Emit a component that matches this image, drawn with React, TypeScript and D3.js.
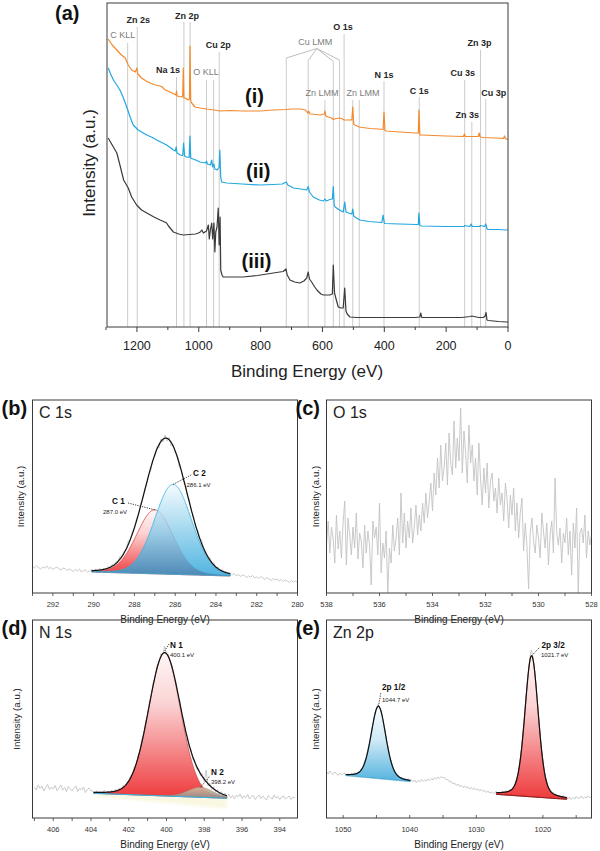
import React from 'react';
import * as d3 from 'd3';

const FONT = "'Liberation Sans', Arial, Helvetica, sans-serif";

// ---------- (a) survey spectra: [binding energy (eV), intensity (a.u.)] ----------
const SURVEY_I: [number, number][] = [
  [1293, 288], [1280, 282], [1265, 277], [1250, 272], [1238, 269], [1228, 262], [1217, 257], [1205, 255],
  [1200, 259], [1197, 253], [1185, 249], [1170, 246], [1158, 244], [1140, 242], [1125, 241], [1118, 240],
  [1114, 238.5], [1108, 237], [1093, 235], [1080, 233], [1074, 232], [1072, 236], [1070, 231], [1055, 230],
  [1052, 231], [1050, 259], [1048, 229], [1044, 229], [1034, 227], [1030, 228], [1028.5, 281], [1026, 226],
  [1023, 224], [1012, 220], [996, 219], [975, 218], [950, 217], [931, 216], [900, 216.5], [860, 216],
  [802, 216], [760, 217], [716, 217.5], [700, 218], [672, 218], [655, 217], [648, 214], [645, 216],
  [640, 213], [620, 212.5], [608, 212], [594, 213], [592, 216], [589, 211], [581, 210], [570, 209],
  [565, 207.5], [560, 208], [545, 209], [538, 208.5], [530, 207], [516, 207], [505, 207], [502, 220],
  [499, 203], [495, 202], [481, 200], [470, 199.5], [446, 198.5], [420, 198], [404, 197.5], [401, 215],
  [398, 196.5], [394, 196], [350, 195], [300, 194], [290, 194], [288, 217], [285, 192], [281, 192],
  [200, 191], [144, 190.5], [141, 193], [138, 190.5], [96, 190.5], [93, 194], [90, 190], [80, 189.5],
  [40, 189], [15, 188.5], [11, 191], [8, 188], [0, 188],
];

const SURVEY_II: [number, number][] = [
  [1293, 259], [1285, 253], [1276, 247], [1265, 242], [1255, 237], [1245, 230], [1233, 220], [1222, 210],
  [1212, 202], [1196, 197], [1185, 195], [1168, 192], [1150, 189.5], [1136, 187], [1120, 184.5], [1104, 182],
  [1090, 179], [1082, 177], [1076, 176], [1073, 180], [1070, 174], [1060, 172], [1052, 171.5], [1049, 184],
  [1046, 171], [1039, 170], [1031, 169.5], [1028.5, 191], [1026, 169], [1023, 168.5], [1010, 167], [996, 165],
  [978, 164], [975, 166], [972, 163], [962, 162], [958, 167], [955, 160], [951, 163], [948, 158],
  [940, 157], [934, 160], [932, 177], [929, 150], [926, 145], [910, 144], [860, 143], [802, 142],
  [760, 142.5], [730, 143], [717, 145], [712, 142], [694, 139], [670, 138], [651, 137], [646, 140.5],
  [642, 135], [630, 130], [610, 127], [597, 126], [592, 128], [588, 126], [576, 127.5], [568, 128],
  [565, 140.5], [562, 122], [559, 120], [545, 117], [533, 115], [528, 125], [524, 115], [516, 114],
  [505, 113], [502, 118], [499, 111], [495, 110], [479, 107], [450, 105.5], [408, 104.5], [404, 112],
  [400, 104], [398, 103.5], [350, 103], [296, 102.5], [290, 102.5], [288, 114], [285, 101.5], [279, 101],
  [200, 100.5], [142, 100.5], [140, 101.5], [124, 100.5], [119, 103], [116, 100.5], [92, 100.5], [89, 101.5],
  [76, 100.5], [72, 103], [68, 98], [64, 97.5], [30, 97.5], [4, 97], [0, 97],
];

const SURVEY_III: [number, number][] = [
  [1293, 189], [1280, 182], [1265, 174], [1255, 162], [1243, 147], [1228, 139], [1217, 130], [1201, 122],
  [1185, 117], [1168, 114], [1145, 110], [1125, 107], [1110, 105], [1104, 104], [1098, 101], [1082, 95],
  [1065, 93], [1050, 92], [1030, 92.5], [1010, 93], [1001, 94], [995, 95], [990, 97], [985, 94],
  [975, 96], [969, 102], [966, 88], [962, 98], [958, 104], [955, 88], [952, 100], [951, 104],
  [948, 75], [945, 95], [941, 100], [937, 119], [934, 82], [931, 110], [929, 57], [925, 52],
  [921, 50], [890, 50], [856, 50], [810, 51.5], [759, 54], [727, 55.5], [718, 58], [714, 52],
  [705, 47], [690, 45], [673, 44], [660, 46], [651, 49], [646, 55], [642, 48], [635, 45],
  [625, 40], [618, 37], [605, 33], [597, 32], [576, 32], [568, 33], [565, 62], [561, 34],
  [556, 28], [549, 20], [540, 19], [533, 19], [528, 39], [524, 16], [520, 13], [511, 10],
  [489, 9.5], [450, 9.5], [400, 9.5], [300, 9.5], [285, 10], [282, 14], [279, 9.5], [200, 9.5],
  [150, 9.5], [122, 10.5], [117, 11], [95, 9.5], [80, 9.5], [74, 11], [71, 14.5], [68, 7],
  [63, 6.5], [30, 5.5], [4, 5], [0, 5],
];

const SURVEY_NAMES = ['(i)', '(ii)', '(iii)'];
const SURVEY_TICKS = [1200, 1000, 800, 600, 400, 200, 0];

// photoelectron / Auger assignments (binding energies of the guide lines)
const SURVEY_PEAKS = [
  { name: 'C KLL', energies: [1230], auger: true },
  { name: 'Zn 2s', energies: [1199], auger: false },
  { name: 'Na 1s', energies: [1072], auger: false },
  { name: 'Zn 2p', energies: [1048, 1028], auger: false },
  { name: 'O KLL', energies: [975, 952], auger: true },
  { name: 'Cu 2p', energies: [934], auger: false },
  { name: 'Cu LMM', energies: [717, 646, 565, 545], auger: true },
  { name: 'Zn LMM', energies: [592], auger: true },
  { name: 'O 1s', energies: [530], auger: false },
  { name: 'Zn LMM', energies: [502, 481], auger: true },
  { name: 'N 1s', energies: [401], auger: false },
  { name: 'C 1s', energies: [287], auger: false },
  { name: 'Cu 3s', energies: [140], auger: false },
  { name: 'Zn 3s', energies: [117], auger: false },
  { name: 'Zn 3p', energies: [89], auger: false },
  { name: 'Cu 3p', energies: [72], auger: false },
];

// label placement for the assignments above (same order)
const SURVEY_LABEL_LAYOUT: { dx: number; y: number; top: number; hub?: number; tops?: number[] }[] = [
  { dx: -5, y: 38, top: 43 },
  { dx: 1, y: 23, top: 27 },
  { dx: -8.5, y: 73, top: 77 },
  { dx: 0, y: 19, top: 22 },
  { dx: -4, y: 75, top: 80 },
  { dx: -1, y: 48, top: 52 },
  { dx: -1.5, y: 45, top: 58, hub: 48.5, tops: [58, 60.5, 61.5, 60] },
  { dx: -3, y: 96, top: 100 },
  { dx: -1, y: 30, top: 34 },
  { dx: 7, y: 96, top: 100 },
  { dx: 0, y: 78, top: 81 },
  { dx: 0, y: 94, top: 97 },
  { dx: -2, y: 76, top: 80 },
  { dx: -4.5, y: 118, top: 122 },
  { dx: -1, y: 46, top: 50 },
  { dx: 8, y: 96, top: 99 },
];

// ---------- (b) C 1s ----------
const C1S_RAW_START = 293;
const C1S_RAW_STEP = 0.1;
const C1S_RAW = [
  26.5, 25, 27, 25.5, 24, 26, 25, 27, 24.5, 25.5, 23.5, 25, 26, 24, 23, 25, 24.5, 22.5, 24, 23,
  21.5, 23.5, 22, 24, 21, 22.5, 23, 21, 22, 23.5, 22.5,
  24, 21.5, 24.5, 22, 25, 23, 26.5, 25, 28.5, 27, 31.5, 32, 37, 36.5, 42, 44, 52, 54, 62, 64,
  74.5, 78.5, 89, 93.5, 104, 108, 119, 122, 133.5, 136, 146, 145, 154, 151, 158, 152, 155.5, 147, 148.5, 140,
  137.5, 126, 123.5, 112, 108.5, 97, 93, 81.5, 77, 66, 63.5, 55, 52.5, 44, 41.5, 36, 35.5, 30.5, 30, 25,
  26, 22.5, 23.5, 20.5, 21.5, 19, 20,
  18.5, 19.5, 17, 18.5, 16.5, 18, 17.5, 15.5, 17, 16, 17.5, 15, 16, 14.5, 16.5, 15, 13.5, 15.5, 14, 12.5,
  14.5, 13, 14, 12, 13.5, 11.5, 13, 12, 10.5, 12.5, 11, 12, 10.5,
];
const C1S_BASELINE: [number, number][] = [[290.1, 21], [283.3, 17]];
const C1S_PEAKS = [
  { name: 'C 1', center: 287.0, fwhm: 2.1, height: 64 },
  { name: 'C 2', center: 286.1, fwhm: 2.15, height: 90 },
];
const C1S_ETA = 0.1;

// ---------- (c) O 1s ----------
const O1S_RAW_START = 538;
const O1S_RAW_STEP = 0.0625;
const O1S_RAW = [
  48, 72, 40, 66, 55, 30, 78, 44, 62, 35, 70, 92, 28, 75, 58, 38,
  66, 45, 80, 34, 60, 52, 25, 68, 40, 62, 48, 8, 72, 55, 66, 38,
  90, 20, 50, 35, 62, 0, 45, 30, 68, 42, 55, 75, 38, 100, 50, 80,
  45, 72, 55, 85, 50, 66, 88, 58, 78, 62, 90, 70, 100, 75, 92, 110,
  82, 120, 98, 135, 105, 148, 112, 125, 150, 108, 160, 130, 118, 172, 125, 155,
  132, 185, 120, 162, 140, 110, 168, 130, 148, 112, 135, 98, 150, 115, 88, 125,
  100, 130, 85, 112, 120, 92, 105, 80, 115, 88, 100, 72, 110, 95, 65, 98,
  78, 105, 62, 90, 55, 80, 95, 42, 70, 48, 4, 60, 75, 52, 40, 68,
  55, 35, 80, 62, 45, 70, 28, 58, 72, 40, 115, 60, 48, 65, 30, 60,
  50, 75, 38, 62, 18, 70, 45, 85, 0, 60, 65, 50, 78, 35, 62, 48,
  58,
];

// ---------- (d) N 1s ----------
const N1S_RAW_START = 407.0;
const N1S_RAW_STEP = 0.1;
const N1S_RAW = [
  31, 28, 33, 29.5, 32, 27, 30.5, 33.5, 28.5, 31, 29, 32.5, 27.5, 30, 33, 28, 30.5, 26.5, 31.5, 29,
  27, 30, 32, 26.5, 29.5, 28, 31, 25.5, 28.5, 30, 27,
  27, 24, 27.5, 23.5, 26.5, 24.5, 28, 24, 27, 25, 28, 25, 29, 26.5, 30, 28, 32.5, 31, 36, 36,
  42.5, 43, 51.5, 53.5, 63, 67, 79, 83.5, 97, 102, 117, 121.5, 136, 139.5, 153, 153, 164.5, 162, 172, 162.5,
  164, 153.5, 152.5, 140, 136.5, 122.5, 118, 103.5, 99, 86, 82.5, 71, 68.5, 58.5, 58, 49, 50, 42.5, 44, 36.5,
  48, 32, 35, 28.5, 31.5, 26, 28.5, 23.5, 26.5, 22, 25, 21,
  23.5, 20, 22.5, 19, 23, 21, 24, 19.5, 22, 20.5, 23.5, 19, 21.5, 22.5, 18.5, 21, 23, 19.5, 22, 20,
  18, 22.5, 20.5, 19, 23, 20, 21.5, 18.5, 21, 22, 19, 20.5, 22, 18.5, 21, 20,
];
const N1S_BASELINE: [number, number][] = [[403.87, 24.7], [396.8, 19.7]];
const N1S_PEAKS = [
  { name: 'N 1', center: 400.1, fwhm: 2.0, height: 143 },
  { name: 'N 2', center: 398.2, fwhm: 1.6, height: 10 },
];
const N1S_ETA = 0.1;

// ---------- (e) Zn 2p ----------
const ZN2P_RAW_START = 1052.5;
const ZN2P_RAW_STEP = 0.25;
const ZN2P_RAW = [
  46.5, 44, 47, 45, 43.5, 46, 44.5, 42.5, 45, 43, 44.5,
  45, 42, 44.5, 42.5, 45, 42.5, 45.5, 43, 46.5, 45, 50, 50.5, 57.5, 60, 70, 75.5, 87.5, 94, 105, 108,
  114, 109, 107, 96, 89.5, 77, 71, 60, 56.5, 48.5, 47.5, 42.5, 43, 39.5, 41, 38, 40, 37, 39.5, 36.5, 38.5,
  36, 38, 35.5, 37.5, 36, 38.5, 36.5, 38, 37, 39, 37.5, 39.5, 38, 40.5, 39, 41, 39.5, 41.5, 40, 40.5,
  38, 38.5, 36, 36.5, 34, 35, 32.5, 34, 31.5, 32.5, 30.5, 32, 30, 31, 29, 30.5, 28.5, 30, 28, 29,
  27, 28.5, 26.5, 27.5, 25.5, 27, 25, 26, 24.5, 25.5,
  26.5, 24, 26, 24.5, 27, 25, 27.5, 25.5, 28.5, 27.5, 31, 32, 38.5, 43, 55, 65.5, 84.5, 101, 124, 141,
  158, 168, 162, 148, 131, 108, 90.5, 70, 58, 44.5, 38.5, 31, 29.5, 25, 26, 22.5, 24, 21, 23, 20.5,
  22.5, 19.5, 21.5, 19,
  21, 18.5, 20.5, 19, 21.5, 19.5, 20, 22, 19.5, 21, 20, 22, 20.5, 21.5,
];
const ZN2P_HALF_BASELINE: [number, number][] = [[1049.6, 42.3], [1039.9, 36.3]];
const ZN2P_HALF_PEAKS = [{ name: '2p 1/2', center: 1044.7, fwhm: 2.6, height: 72.5 }];
const ZN2P_MAIN_BASELINE: [number, number][] = [[1027.0, 23.65], [1016.4, 18.7]];
const ZN2P_MAIN_PEAKS = [{ name: '2p 3/2', center: 1021.7, fwhm: 2.35, height: 141 }];
const ZN2P_ETA = 0.25;

type Peak = { name: string; center: number; fwhm: number; height: number };
type Scale = d3.ScaleLinear<number, number>;

// pseudo-Voigt line shape used by the fit
function pseudoVoigt(e: number, p: Peak, eta: number) {
  const d = e - p.center;
  const q = (d * d) / (p.fwhm * p.fwhm);
  return p.height * ((1 - eta) * Math.exp(-4 * Math.LN2 * q) + eta / (1 + 4 * q));
}

function makeBaseline(b: [number, number][]) {
  const [[e0, i0], [e1, i1]] = b;
  return (e: number) => i0 + ((e - e0) * (i1 - i0)) / (e1 - e0);
}

interface FitStyle { fill: string; stroke: string; strokeWidth?: number; opacity?: number }

function FitRegion({ x, y, baseline, peaks, eta, styles, baseStroke }: {
  x: Scale; y: Scale; baseline: [number, number][]; peaks: Peak[]; eta: number;
  styles: FitStyle[]; baseStroke?: string;
}) {
  const base = makeBaseline(baseline);
  const lo = Math.min(baseline[0][0], baseline[1][0]);
  const hi = Math.max(baseline[0][0], baseline[1][0]);
  const grid = d3.range(lo, hi + 1e-9, 0.02);
  const comp = d3.area<number>().x(e => x(e)).y0(e => y(base(e)));
  const envelope = d3.line<number>()
    .x(e => x(e))
    .y(e => y(base(e) + d3.sum(peaks, p => pseudoVoigt(e, p, eta))));
  return (
    <g>
      {peaks.map((p, i) => (
        <path
          key={p.name}
          d={comp.y1(e => y(base(e) + pseudoVoigt(e, p, eta)))(grid) ?? ''}
          fill={styles[i].fill}
          fillOpacity={styles[i].opacity ?? 1}
          stroke={styles[i].stroke}
          strokeWidth={styles[i].strokeWidth ?? 0.8}
        />
      ))}
      {baseStroke && (
        <line x1={x(lo)} x2={x(hi)} y1={y(base(lo))} y2={y(base(hi))} stroke={baseStroke} strokeWidth={1} />
      )}
      <path d={envelope(grid) ?? ''} fill="none" stroke="#111" strokeWidth={1.2} />
    </g>
  );
}

function PeakLabel({ from, to, name, value, nameAt, valueAt }: {
  from: [number, number]; to: [number, number]; name: string; value: string;
  nameAt: [number, number]; valueAt: [number, number];
}) {
  return (
    <g>
      <line x1={from[0]} y1={from[1]} x2={to[0]} y2={to[1]} stroke="#222" strokeWidth={0.9} strokeDasharray="1.2,1.2" />
      <text x={nameAt[0]} y={nameAt[1]} fontSize={8.2} fontWeight="bold" fill="#111">{name}</text>
      <text x={valueAt[0]} y={valueAt[1]} fontSize={6} fill="#222">{value}</text>
    </g>
  );
}

function CoreLevelPanel({ id, frame, domain, yMax, tickStep, labelEvery, tickInward, raw, rawStart, rawStep,
  letter, title, yLabelX, children }: {
  id: string; frame: [number, number, number, number]; domain: [number, number]; yMax: number;
  tickStep: number; labelEvery: number; tickInward?: boolean; raw: number[]; rawStart: number; rawStep: number;
  letter: string; title: string; yLabelX: number; children?: (x: Scale, y: Scale) => React.ReactNode;
}) {
  const [x0, x1, y0, y1] = frame;
  const x = d3.scaleLinear().domain(domain).range([x0, x1]);
  const y = d3.scaleLinear().domain([0, yMax]).range([y1, y0]);
  const rawLine = d3.line<number>().x((_, i) => x(rawStart - i * rawStep)).y(v => y(v));
  const lo = Math.min(...domain);
  const hi = Math.max(...domain);
  const ticks = d3.range(Math.ceil(lo / tickStep - 1e-9) * tickStep, hi + 1e-9, tickStep);
  const isLabeled = (t: number) => Math.abs(t / labelEvery - Math.round(t / labelEvery)) < 1e-6;
  const cx = (x0 + x1) / 2;
  return (
    <g>
      <defs>
        <clipPath id={`clip-${id}`}>
          <rect x={x0} y={y0} width={x1 - x0} height={y1 - y0} />
        </clipPath>
      </defs>
      <g clipPath={`url(#clip-${id})`}>
        <path d={rawLine(raw) ?? ''} fill="none" stroke="#c3c3c3" strokeWidth={0.9} />
        {children && children(x, y)}
      </g>
      <rect x={x0} y={y0} width={x1 - x0} height={y1 - y0} fill="none" stroke="#3a3a3a" strokeWidth={1} />
      {ticks.map(t => (
        <g key={t}>
          <line x1={x(t)} x2={x(t)} y1={y1} y2={tickInward ? y1 - 3 : y1 + 3} stroke="#3a3a3a" strokeWidth={0.8} />
          {isLabeled(t) && (
            <text x={x(t)} y={y1 + 14} fontSize={7.5} textAnchor="middle" fill="#333">{d3.format('d')(t)}</text>
          )}
        </g>
      ))}
      <text x={cx} y={y1 + 29.5} fontSize={10} textAnchor="middle" fill="#222">Binding Energy (eV)</text>
      <text transform={`translate(${yLabelX},${(y0 + y1) / 2}) rotate(-90)`} dy="0.35em" fontSize={9.7}
        textAnchor="middle" fill="#222">Intensity (a.u.)</text>
      <text x={x0 - 31} y={y0 + 14.5} fontSize={20} fontWeight="bold" fill="#111">{letter}</text>
      <text x={x0 + 6.5} y={y0 + 18} fontSize={16} fill="#222">{title}</text>
    </g>
  );
}

function Survey() {
  const x = d3.scaleLinear().domain([1300, 0]).range([106, 508]);
  const y = d3.scaleLinear().domain([0, 324]).range([327, 3]);
  const line = d3.line<[number, number]>().x(d => x(d[0])).y(d => y(d[1]));
  const series = [
    { data: SURVEY_I, color: '#f28a2e' },
    { data: SURVEY_II, color: '#22a6e0' },
    { data: SURVEY_III, color: '#3b3b3b' },
  ];
  const nameLayout = [[245, 102.5], [246, 178], [241.5, 268]];
  const minor = d3.range(0, 1301, 100);
  return (
    <g>
      {SURVEY_PEAKS.map((p, i) => {
        const lay = SURVEY_LABEL_LAYOUT[i];
        const xs = p.energies.map(e => x(e));
        const lx = (d3.mean(xs) ?? 0) + lay.dx;
        return (
          <g key={i}>
            {xs.map((px, k) => (
              <line key={k} x1={px} x2={px} y1={lay.tops ? lay.tops[k] : lay.top} y2={327} stroke="#cbcbcb" strokeWidth={1} />
            ))}
            {lay.tops && xs.map((px, k) => (
              <line key={`f${k}`} x1={lx + 1.5} y1={lay.hub} x2={px} y2={lay.tops![k]} stroke="#b5b5b5" strokeWidth={0.9} />
            ))}
            <text x={lx} y={lay.y} fontSize={9} textAnchor="middle"
              fontWeight={p.auger ? 'normal' : 'bold'} fill={p.auger ? '#7d7d7d' : '#262626'}>{p.name}</text>
          </g>
        );
      })}
      {series.map((s, i) => (
        <path key={i} d={line(s.data) ?? ''} fill="none" stroke={s.color} strokeWidth={1.2} strokeLinejoin="round" />
      ))}
      {SURVEY_NAMES.map((n, i) => (
        <text key={n} x={nameLayout[i][0]} y={nameLayout[i][1]} fontSize={20} fontWeight="bold" fill="#111">{n}</text>
      ))}
      <rect x={107} y={3} width={401} height={324} fill="none" stroke="#3a3a3a" strokeWidth={1} />
      {minor.map(t => (
        <line key={t} x1={x(t)} x2={x(t)} y1={327} y2={327 + (t % 200 === 0 ? 5 : 3)} stroke="#3a3a3a" strokeWidth={1} />
      ))}
      {SURVEY_TICKS.map(t => (
        <text key={t} x={x(t)} y={350} fontSize={12.5} textAnchor="middle" fill="#222">{t}</text>
      ))}
      <text x={307} y={377} fontSize={17} textAnchor="middle" fill="#222">Binding Energy (eV)</text>
      <text transform="translate(89,163) rotate(-90)" dy="0.35em" fontSize={17} textAnchor="middle" fill="#222">Intensity (a.u.)</text>
      <text x={55} y={19.5} fontSize={20} fontWeight="bold" fill="#111">(a)</text>
    </g>
  );
}

export default function App() {
  const c1sBase = makeBaseline(C1S_BASELINE);
  const n1sBase = makeBaseline(N1S_BASELINE);
  const znHalfBase = makeBaseline(ZN2P_HALF_BASELINE);
  const znMainBase = makeBaseline(ZN2P_MAIN_BASELINE);
  const topOf = (p: Peak, base: (e: number) => number, eta: number) => base(p.center) + pseudoVoigt(p.center, p, eta);
  return (
    <svg width={600} height={851} viewBox="0 0 600 851" fontFamily={FONT}
      style={{ position: 'absolute', left: 0, top: 0, background: '#fff' }}>
      <defs>
        <linearGradient id="gRed" x1="0" y1="0" x2="0" y2="1">
          <stop offset="0%" stopColor="#fff6f6" />
          <stop offset="35%" stopColor="#fbd3d4" />
          <stop offset="100%" stopColor="#ee3a3c" />
        </linearGradient>
        <linearGradient id="gBlue" x1="0" y1="0" x2="0" y2="1">
          <stop offset="0%" stopColor="#f2fafd" />
          <stop offset="100%" stopColor="#1f9fd8" />
        </linearGradient>
        <linearGradient id="gSky" x1="0" y1="0" x2="0" y2="1">
          <stop offset="0%" stopColor="#fbfeff" />
          <stop offset="45%" stopColor="#cfe9f6" />
          <stop offset="100%" stopColor="#52b3de" />
        </linearGradient>
        <linearGradient id="gTan" x1="0" y1="0" x2="0" y2="1">
          <stop offset="0%" stopColor="#dcb898" />
          <stop offset="100%" stopColor="#8e9090" />
        </linearGradient>
        <filter id="haze" x="-10%" y="-50%" width="120%" height="200%">
          <feGaussianBlur stdDeviation="1.5" />
        </filter>
      </defs>
      <rect width={600} height={851} fill="#fff" />
      <Survey />

      <CoreLevelPanel id="c1s" frame={[32.5, 297.5, 400, 593]} domain={[293, 280]} yMax={193}
        tickStep={1} labelEvery={2} raw={C1S_RAW} rawStart={C1S_RAW_START} rawStep={C1S_RAW_STEP}
        letter="(b)" title="C 1s" yLabelX={21}>
        {(x, y) => (
          <FitRegion x={x} y={y} baseline={C1S_BASELINE} peaks={C1S_PEAKS} eta={C1S_ETA}
            styles={[
              { fill: 'url(#gRed)', stroke: '#e23a3a' },
              { fill: 'url(#gBlue)', stroke: '#2fb4e4', opacity: 0.78 },
            ]} />
        )}
      </CoreLevelPanel>
      {(() => {
        const x = d3.scaleLinear().domain([293, 280]).range([32.5, 297.5]);
        const y = d3.scaleLinear().domain([0, 193]).range([593, 400]);
        const [p1, p2] = C1S_PEAKS;
        return (
          <g>
            <PeakLabel from={[x(p1.center), y(topOf(p1, c1sBase, C1S_ETA))]} to={[128, 503]}
              name={p1.name} value={`${p1.center.toFixed(1)} eV`} nameAt={[112, 504]} valueAt={[103, 514]} />
            <PeakLabel from={[x(p2.center), y(topOf(p2, c1sBase, C1S_ETA))]} to={[192, 474.5]}
              name={p2.name} value={`${p2.center.toFixed(1)} eV`} nameAt={[193, 476]} valueAt={[186.5, 486.5]} />
          </g>
        );
      })()}

      <CoreLevelPanel id="o1s" frame={[326.5, 591.5, 400, 593]} domain={[538, 528]} yMax={193}
        tickStep={1} labelEvery={2} raw={O1S_RAW} rawStart={O1S_RAW_START} rawStep={O1S_RAW_STEP}
        letter="(c)" title="O 1s" yLabelX={316} />

      <CoreLevelPanel id="n1s" frame={[32.5, 297.5, 620, 818]} domain={[407.1, 393.06]} yMax={198}
        tickStep={1} labelEvery={2} raw={N1S_RAW} rawStart={N1S_RAW_START} rawStep={N1S_RAW_STEP}
        letter="(d)" title="N 1s" yLabelX={17}>
        {(x, y) => {
          const hazeLine = d3.area<number>()
            .x(e => x(e))
            .y0(e => y(n1sBase(e)))
            .y1(e => y(n1sBase(e) - 3 - (403.87 - e) * 1.0));
          return (
            <g>
              <path d={hazeLine(d3.range(396.8, 403.87, 0.1)) ?? ''} fill="#f5f2cc" opacity={0.6} filter="url(#haze)" />
              <FitRegion x={x} y={y} baseline={N1S_BASELINE} peaks={N1S_PEAKS} eta={N1S_ETA} baseStroke="#35b2e2"
                styles={[
                  { fill: 'url(#gRed)', stroke: '#c8393a', strokeWidth: 0.6 },
                  { fill: 'url(#gTan)', stroke: '#8a8070', strokeWidth: 0.5, opacity: 0.9 },
                ]} />
            </g>
          );
        }}
      </CoreLevelPanel>
      {(() => {
        const x = d3.scaleLinear().domain([407.1, 393.06]).range([32.5, 297.5]);
        const y = d3.scaleLinear().domain([0, 198]).range([818, 620]);
        const [p1, p2] = N1S_PEAKS;
        return (
          <g>
            <PeakLabel from={[x(p1.center), y(topOf(p1, n1sBase, N1S_ETA)) - 2]} to={[169, 644]}
              name={p1.name} value={`${p1.center.toFixed(1)} eV`} nameAt={[170, 647.5]} valueAt={[170, 656.5]} />
            <PeakLabel from={[x(p2.center), y(topOf(p2, n1sBase, N1S_ETA))]} to={[210, 776]}
              name={p2.name} value={`${p2.center.toFixed(1)} eV`} nameAt={[211, 775]} valueAt={[211, 784]} />
          </g>
        );
      })()}

      <CoreLevelPanel id="zn2p" frame={[326.5, 591.5, 620, 818]} domain={[1052.5, 1012.7]} yMax={198}
        tickStep={5} labelEvery={10} tickInward raw={ZN2P_RAW} rawStart={ZN2P_RAW_START} rawStep={ZN2P_RAW_STEP}
        letter="(e)" title="Zn 2p" yLabelX={316}>
        {(x, y) => (
          <g>
            <FitRegion x={x} y={y} baseline={ZN2P_HALF_BASELINE} peaks={ZN2P_HALF_PEAKS} eta={ZN2P_ETA}
              styles={[{ fill: 'url(#gSky)', stroke: '#3a9ecf', strokeWidth: 0.6 }]} />
            <FitRegion x={x} y={y} baseline={ZN2P_MAIN_BASELINE} peaks={ZN2P_MAIN_PEAKS} eta={ZN2P_ETA}
              baseStroke="#8a1f1f"
              styles={[{ fill: 'url(#gRed)', stroke: '#c02828', strokeWidth: 0.6 }]} />
          </g>
        )}
      </CoreLevelPanel>
      {(() => {
        const x = d3.scaleLinear().domain([1052.5, 1012.7]).range([326.5, 591.5]);
        const y = d3.scaleLinear().domain([0, 198]).range([818, 620]);
        const p1 = ZN2P_HALF_PEAKS[0];
        const p2 = ZN2P_MAIN_PEAKS[0];
        return (
          <g>
            <PeakLabel from={[x(p1.center), y(topOf(p1, znHalfBase, ZN2P_ETA))]} to={[381, 692]}
              name={p1.name} value={`${p1.center.toFixed(1)} eV`} nameAt={[382, 690]} valueAt={[382, 701.5]} />
            <PeakLabel from={[x(p2.center), y(topOf(p2, znMainBase, ZN2P_ETA))]} to={[540, 647]}
              name={p2.name} value={`${p2.center.toFixed(1)} eV`} nameAt={[541.5, 648]} valueAt={[541, 657]} />
          </g>
        );
      })()}
    </svg>
  );
}
